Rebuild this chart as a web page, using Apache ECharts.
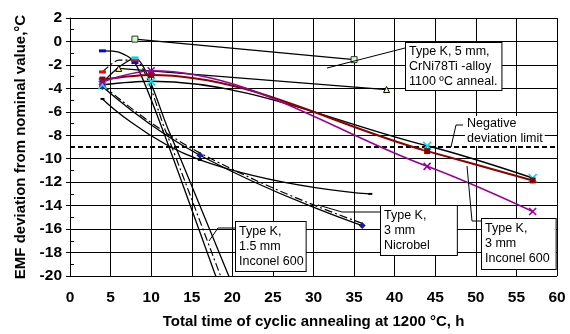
<!DOCTYPE html>
<html><head><meta charset="utf-8">
<script src="https://cdn.jsdelivr.net/npm/echarts@6/dist/echarts.min.js"></script>
<style>html,body{margin:0;padding:0;background:#fff}#c{width:570px;height:334px}</style>
</head><body><div id="c"></div>
<script>
// ---- data ----
const xTicks = [0, 5, 10, 15, 20, 25, 30, 35, 40, 45, 50, 55, 60];
const yTicks = [2, 0, -2, -4, -6, -8, -10, -12, -14, -16, -18, -20];
// Type K, 3 mm Inconel 600
const inc3Purple = [[4, -3.45], [10, -2.5], [44, -10.65], [57, -14.5]];
const inc3Red = [[4, -3.25], [10, -2.85], [44, -9.35], [57, -11.85]];
const inc3Black = [[4, -3.7], [10, -3.4], [44, -8.9], [57, -11.65]];
// Type K, 5 mm CrNi78Ti (1100 °C anneal.)
const crniSquare = [[8, 0.2], [35, -1.55]];
const crniTriangle = [[6, -2.3], [39, -4.1]];
// Type K, 1.5 mm Inconel 600 (steep drift, runs below -20)
const inc15Blue = [[4, -0.8], [6, -0.9], [8, -1.8], [11.4, -7.5], [17.9, -19.9], [19, -22]];
const inc15Red = [[4, -2.6], [6, -1.6], [8, -1.6], [11.7, -7.5], [18.5, -19.9], [19.5, -21.7]];
const inc15Cyan = [[4, -3.5], [6, -2.2], [8, -1.4], [12.1, -7.5], [19.5, -19.9], [20.5, -21.6]];
// Type K, 3 mm Nicrobel
const nicro1 = [[4, -3.85], [16, -9.7], [36, -15.7]];
const nicro2 = [[4, -4.9], [16, -10.1], [37, -13.0]];
const nicro3 = [[4, -3.7], [16, -9.5], [36, -15.5]];
// negative deviation limit
const limitLine = [[0, -9], [60, -9]];

const FONT = 'Liberation Sans, Arial, sans-serif';
const X = 'path://M0,0L10,10M0,10L10,0';

function line(data, color, width, extra) {
  return Object.assign({
    type: 'line', data: data, smooth: 0.5, clip: true,
    lineStyle: {color: color, width: width},
    symbol: 'none', silent: true, z: 3
  }, extra || {});
}

const steepMarks = {showAllSymbol: true, smooth: 0.25, symbol: 'rect', symbolSize: [7, 3]};
function onlyAt(xs) { return (v, p) => xs.includes(p.data[0]) ? [7, 3] : 0; }

const series = [
  line(limitLine, '#000', 2.2, {smooth: false, lineStyle: {color: '#000', width: 2.2, type: [5, 3]}}),
  line(crniSquare, '#000', 1.3, {smooth: false, symbol: 'rect', symbolSize: 6,
    itemStyle: {color: '#ccffcc', borderColor: '#333', borderWidth: 1}}),
  line(crniTriangle, '#000', 1.3, {smooth: false, symbol: 'triangle', symbolSize: 6,
    itemStyle: {color: '#ffff66', borderColor: '#000', borderWidth: 1}}),
  line(nicro2, '#000', 1.3, {symbol: 'rect', symbolSize: [4, 2], itemStyle: {color: '#000'}}),
  line(nicro3, '#000', 1.2, {lineStyle: {color: '#000', width: 1.2, type: [8, 3, 2, 3]}}),
  line(nicro1, '#000', 1.3, {symbol: 'diamond', symbolSize: 7, itemStyle: {color: '#1a1a9a'}}),
  line(inc15Red, '#000', 1.2, Object.assign({}, steepMarks, {symbolSize: onlyAt([4, 8]),
    itemStyle: {color: '#ff0000'}, lineStyle: {color: '#000', width: 1.2, type: [8, 3, 2, 3]}})),
  line(inc15Blue, '#000', 1.3, Object.assign({}, steepMarks, {symbolSize: onlyAt([4, 8]),
    itemStyle: {color: '#0000ff'}})),
  line(inc15Cyan, '#000', 1.3, Object.assign({}, steepMarks, {symbolSize: onlyAt([4, 8]),
    itemStyle: {color: '#00dddd'}})),
  line(inc3Black, '#000', 1.5, {smooth: 0.35, symbol: X, symbolSize: 8,
    itemStyle: {color: 'transparent', borderColor: '#00e0ee', borderWidth: 1.6}}),
  line(inc3Red, '#8b0000', 2, {smooth: 0.35, symbol: 'rect', symbolSize: 6, itemStyle: {color: '#8b0000'}}),
  line(inc3Purple, '#990099', 1.6, {smooth: 0.35, symbol: X, symbolSize: 7,
    itemStyle: {color: 'transparent', borderColor: '#990099', borderWidth: 1.6}})
];

const chart = echarts.init(document.getElementById('c'), null, {renderer: 'canvas'});
const boxText = {fontFamily: FONT, fontSize: 12.5, lineHeight: 15, fill: '#000',
  backgroundColor: '#fff', borderColor: '#000', borderWidth: 1};
function leader(points) {
  return {type: 'polyline', shape: {points: points}, style: {stroke: '#000', lineWidth: 1, fill: null}, z: 10};
}
chart.setOption({
  animation: false,
  backgroundColor: '#fff',
  grid: {left: 70, right: 13, top: 18, bottom: 56, containLabel: false},
  xAxis: {
    type: 'value', min: 0, max: 60, interval: 5,
    name: 'Total time of cyclic annealing at 1200 °C, h',
    nameLocation: 'middle', nameGap: 38,
    nameTextStyle: {fontFamily: FONT, fontSize: 15, fontWeight: 'bold', color: '#000'},
    axisLine: {lineStyle: {color: '#000', width: 1}},
    axisTick: {show: true, length: 4, lineStyle: {color: '#000'}},
    axisLabel: {fontFamily: FONT, fontSize: 15.5, fontWeight: 'bold', color: '#000', margin: 14,
      formatter: v => xTicks.includes(v) ? String(v) : ''},
    splitLine: {show: true, lineStyle: {color: '#000', width: 1}}
  },
  yAxis: [{
    type: 'value', min: -20, max: 2, interval: 2,
    name: 'EMF deviation from nominal value,°C',
    nameLocation: 'middle', nameGap: 42, nameRotate: 90,
    nameTextStyle: {fontFamily: FONT, fontSize: 15, fontWeight: 'bold', color: '#000'},
    axisLine: {show: true, lineStyle: {color: '#000', width: 1}},
    axisTick: {show: true, length: 4, lineStyle: {color: '#000'}},
    axisLabel: {fontFamily: FONT, fontSize: 15.5, fontWeight: 'bold', color: '#000', margin: 8,
      formatter: v => yTicks.includes(v) ? String(v) : ''},
    splitLine: {show: true, lineStyle: {color: '#000', width: 1}}
  }, {
    type: 'value', min: -20, max: 2, interval: 1, position: 'left',
    axisLine: {show: false}, axisLabel: {show: false}, splitLine: {show: false},
    axisTick: {show: true, inside: true, length: 4, lineStyle: {color: '#000'}}
  }],
  series: series,
  graphic: [
    leader([[327, 68], [405, 48]]),
    {type: 'text', left: 405, top: 42, z: 20,
      style: Object.assign({}, boxText, {text: 'Type K, 5 mm,\nCrNi78Ti -alloy\n1100 ºC anneal.', padding: [1, 4, 1, 3]})},
    leader([[463, 125], [456, 125], [451, 147]]),
    {type: 'text', left: 465, top: 116, z: 20,
      style: {text: 'Negative\ndeviation limit', fontFamily: FONT, fontSize: 12.5, lineHeight: 15, fill: '#000',
        backgroundColor: '#fff', padding: [0, 2, 0, 2]}},
    leader([[380, 212], [342, 212], [318, 205]]),
    {type: 'text', left: 380, top: 205, z: 20,
      style: Object.assign({}, boxText, {text: 'Type K,\n3 mm\nNicrobel', padding: [2, 27, 2, 3]})},
    leader([[481, 221], [472, 221], [467, 166]]),
    {type: 'text', left: 481, top: 218, z: 20,
      style: Object.assign({}, boxText, {text: 'Type K,\n3 mm\nInconel 600', padding: [2, 6, 3, 3]})},
    leader([[235, 228], [218, 228], [209, 241]]),
    {type: 'text', left: 235, top: 221, z: 20,
      style: Object.assign({}, boxText, {text: 'Type K,\n1.5 mm\nInconel 600', padding: [2, 2, 2, 3]})}
  ]
});
</script></body></html>
